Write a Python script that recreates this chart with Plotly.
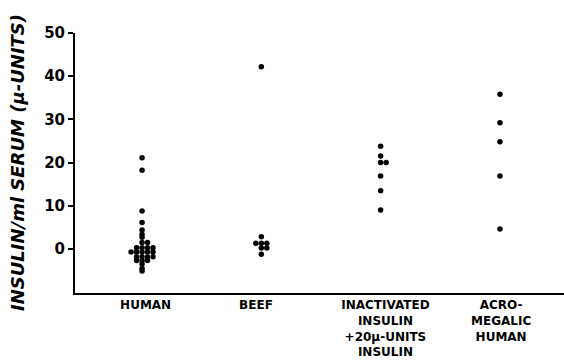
import plotly.graph_objects as go
from collections import Counter

# ---- data ----
categories = ["HUMAN", "BEEF",
              "INACTIVATED<br>INSULIN<br>+20\u03bc-UNITS<br>INSULIN",
              "ACRO-<br>MEGALIC<br>HUMAN"]
human = [21.1, 18.2, 8.8, 6.1, 4.4, 3.4, 2.7,
         1.5, 1.5,
         0.3, 0.3, 0.3, 0.3,
         -0.7, -0.7, -0.7, -0.7, -0.7,
         -1.8, -1.8, -1.8, -1.8,
         -2.7, -2.7, -2.7,
         -3.5, -4.5, -5.1]
beef = [42.2, 2.8, 1.3, 1.3, 1.3, 0.2, 0.2, -1.2]
inactivated = [23.8, 21.5, 20.0, 20.0, 16.9, 13.5, 9.0]
acromegalic = [35.8, 29.2, 24.8, 16.9, 4.6]
series = [human, beef, inactivated, acromegalic]
y_ticks = [0, 10, 20, 30, 40, 50]
label_pos = [0.03, 0.955, 2.04, 3.01]

TIE_DX = 0.046  # horizontal spacing of tied dots (category units)

xs, ys = [], []
for ci, vals in enumerate(series):
    seen = Counter()
    for v in vals:
        k = seen[v]
        seen[v] += 1
        # order of placement: 0, +1, -1, +2, -2 ...
        off = (k + 1) // 2 * (1 if k % 2 == 1 else -1)
        xs.append(ci + off * TIE_DX)
        ys.append(v)

fig = go.Figure(go.Scatter(
    x=xs, y=ys, mode="markers",
    marker=dict(size=5.5, color="black", line=dict(width=0)),
    showlegend=False, hoverinfo="skip"))

FONT = "DejaVu Sans"
fig.update_layout(
    width=564, height=362,
    margin=dict(l=75, r=0, t=32.5, b=69, autoexpand=False),
    paper_bgcolor="white", plot_bgcolor="white",
    xaxis=dict(range=[-0.562, 3.537], showgrid=False, zeroline=False,
               showline=True, linecolor="black", linewidth=2, automargin=False,
               tickmode="array", tickvals=label_pos, ticktext=categories,
               ticks="", tickangle=0,
               tickfont=dict(family=FONT, size=12, color="black", weight="bold")),
    yaxis=dict(range=[-10.2, 50], showgrid=False, zeroline=False,
               showline=True, linecolor="black", linewidth=2, automargin=False,
               tickmode="array", tickvals=y_ticks,
               ticks="outside", ticklen=5, tickwidth=2, tickcolor="black",
               tickfont=dict(family=FONT, size=15, color="black", weight="bold")),
    annotations=[dict(
        text="INSULIN/<i>ml</i> SERUM (\u03bc-UNITS)",
        xref="paper", yref="paper", x=-0.1186, y=0.5,
        xanchor="center", yanchor="middle", textangle=-90, showarrow=False,
        font=dict(family=FONT, size=18, color="black", weight="bold", style="italic"))],
)

fig.write_html("out.html")
